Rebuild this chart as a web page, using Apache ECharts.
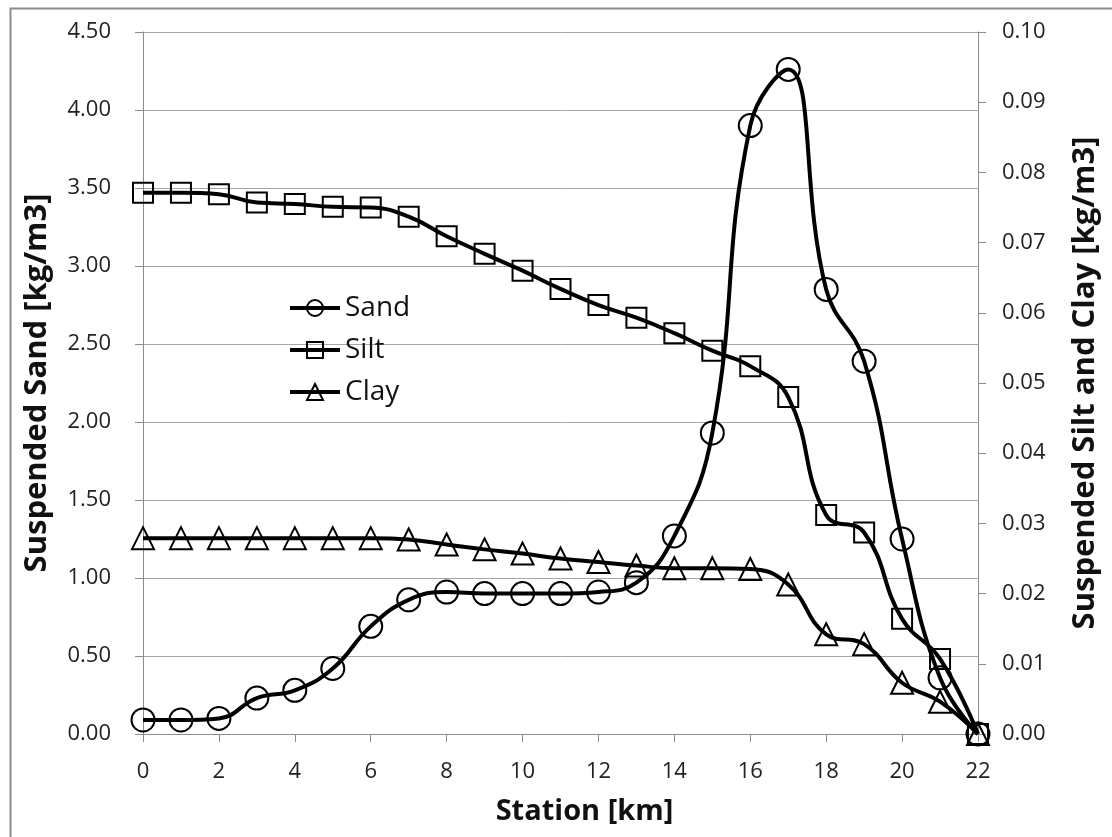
<!DOCTYPE html>
<html>
<head>
<meta charset="utf-8">
<script src="https://cdn.jsdelivr.net/npm/echarts@6/dist/echarts.min.js"></script>
<style>
  html, body { margin: 0; padding: 0; background: #fff; }
  #chart { width: 1112px; height: 837px; }
</style>
</head>
<body>
<div id="chart"></div>
<script>
// station positions [km]
const stations = [0, 1, 2, 3, 4, 5, 6, 7, 8, 9, 10, 11, 12, 13, 14, 15, 16, 17, 18, 19, 20, 21, 22];
// suspended sand, left axis [kg/m3]
const sand = [0.09, 0.09, 0.10, 0.23, 0.28, 0.42, 0.69, 0.86, 0.91, 0.90, 0.90, 0.90, 0.91, 0.97, 1.27, 1.93, 3.90, 4.26, 2.85, 2.39, 1.25, 0.36, 0];
// suspended silt, right axis [kg/m3]
const silt = [0.0771, 0.0771, 0.0769, 0.0757, 0.0755, 0.0751, 0.0750, 0.0737, 0.0709, 0.0684, 0.0660, 0.0634, 0.0611, 0.0593, 0.0571, 0.0546, 0.0524, 0.0480, 0.0312, 0.0287, 0.0164, 0.0107, 0];
// suspended clay, right axis [kg/m3]
const clay = [0.0279, 0.0279, 0.0279, 0.0279, 0.0279, 0.0279, 0.0279, 0.0277, 0.0270, 0.0263, 0.0257, 0.0250, 0.0245, 0.0240, 0.0236, 0.0236, 0.0235, 0.0213, 0.0142, 0.0128, 0.0073, 0.0046, 0];

const font = '"Open Sans", "Noto Sans", sans-serif';
const gridColor = '#a6a6a6';

function pairs(vals) {
  return stations.map((s, i) => [s, vals[i]]);
}

function lineSeries(name, vals, symbol, size, axis) {
  return {
    name: name,
    type: 'line',
    yAxisIndex: axis,
    data: pairs(vals),
    smooth: 0.45,
    symbol: symbol,
    symbolSize: size,
    showAllSymbol: true,
    lineStyle: { color: '#000', width: 4 },
    itemStyle: { color: 'rgba(255,255,255,0)', borderColor: '#000', borderWidth: 2 },
    emphasis: { disabled: true },
    animation: false
  };
}

const chart = echarts.init(document.getElementById('chart'));
chart.setOption({
  backgroundColor: '#fff',
  animation: false,
  textStyle: { fontFamily: font },
  graphic: [{
    type: 'rect',
    left: 8, top: 6,
    shape: { width: 1300, height: 1000 },
    style: { fill: 'none', stroke: '#8c8c8c', lineWidth: 2 },
    silent: true
  }],
  grid: { left: 143, right: 134, top: 32, bottom: 103 },
  legend: {
    orient: 'vertical',
    left: 283,
    top: 288,
    itemWidth: 50,
    itemHeight: 20,
    itemGap: 12,
    lineStyle: { color: '#000', width: 4 },
    textStyle: { fontFamily: font, fontSize: 28, color: '#111', lineHeight: 30 },
    data: ['Sand', 'Silt', 'Clay']
  },
  xAxis: {
    type: 'value',
    min: 0,
    max: 22,
    interval: 2,
    name: 'Station [km]',
    nameLocation: 'middle',
    nameGap: 63,
    nameTextStyle: { fontFamily: font, fontSize: 29, fontWeight: 'bold', color: '#111', padding: [0, 0, 0, 48] },
    axisLine: { lineStyle: { color: '#8c8c8c', width: 1 } },
    axisTick: { show: true, length: 8, lineStyle: { color: '#8c8c8c' } },
    axisLabel: { fontFamily: font, fontSize: 22, color: '#222', margin: 27 },
    splitLine: { show: false }
  },
  yAxis: [{
    type: 'value',
    min: 0,
    max: 4.5,
    interval: 0.5,
    name: 'Suspended Sand [kg/m3]',
    nameLocation: 'middle',
    nameRotate: 90,
    nameGap: 90,
    nameTextStyle: { fontFamily: font, fontSize: 31, fontWeight: 'bold', color: '#111' },
    axisLine: { show: true, lineStyle: { color: '#8c8c8c', width: 1 } },
    axisTick: { show: true, length: 8, lineStyle: { color: '#8c8c8c' } },
    axisLabel: { fontFamily: font, fontSize: 22, color: '#222', margin: 32, formatter: v => v.toFixed(2) },
    splitLine: { show: true, lineStyle: { color: gridColor, width: 1 } }
  }, {
    type: 'value',
    position: 'right',
    min: 0,
    max: 0.1,
    interval: 0.01,
    name: 'Suspended Silt and Clay [kg/m3]',
    nameLocation: 'middle',
    nameRotate: 90,
    nameGap: 92,
    nameTextStyle: { fontFamily: font, fontSize: 31, fontWeight: 'bold', color: '#111' },
    axisLine: { show: true, lineStyle: { color: '#8c8c8c', width: 1 } },
    axisTick: { show: true, length: 8, lineStyle: { color: '#8c8c8c' } },
    axisLabel: { fontFamily: font, fontSize: 22, color: '#222', margin: 24, formatter: v => v.toFixed(2) },
    splitLine: { show: false }
  }],
  series: [
    lineSeries('Sand', sand, 'circle', 23, 0),
    lineSeries('Silt', silt, 'rect', 20, 1),
    lineSeries('Clay', clay, 'triangle', 22, 1)
  ]
});
</script>
</body>
</html>
